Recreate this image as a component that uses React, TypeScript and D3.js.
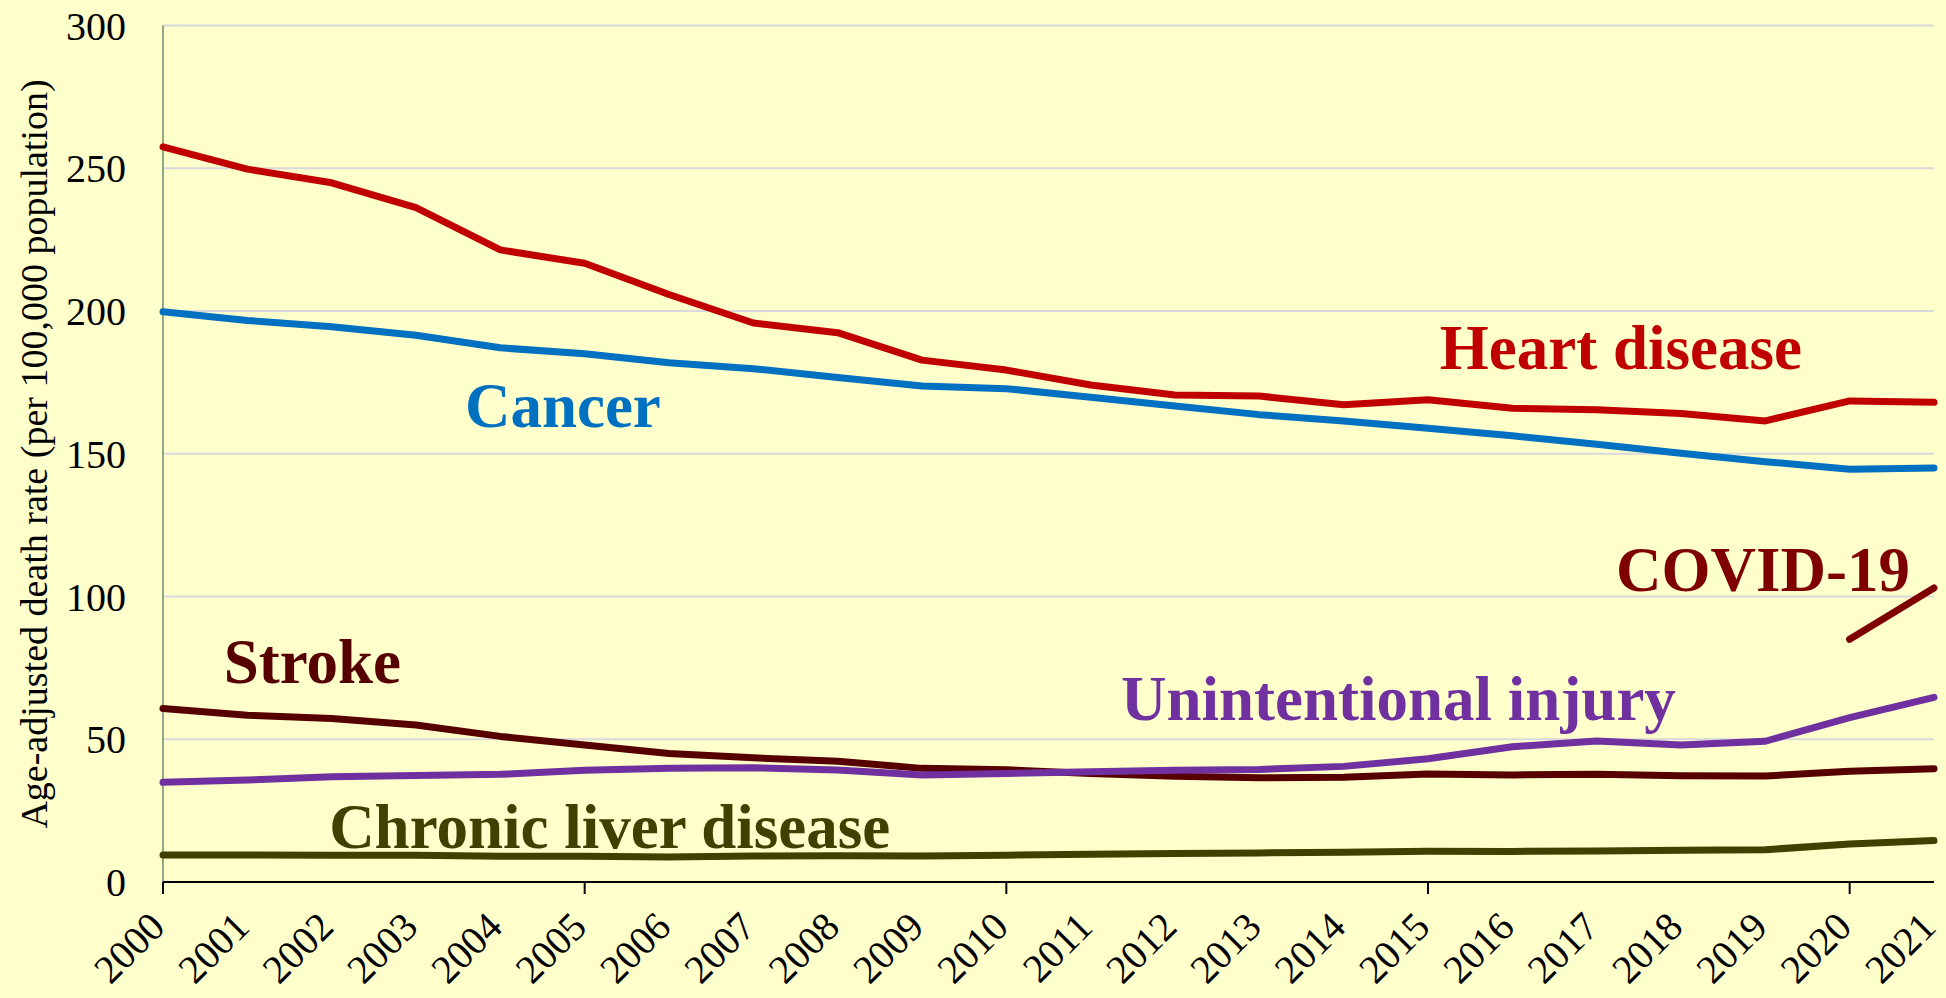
import React from 'react';
import * as d3 from 'd3';

const years = d3.range(2000, 2022);

const heartDisease = [257.5, 249.7, 244.9, 236.2, 221.4, 216.7, 205.8, 195.8, 192.4, 182.8, 179.3, 174.1, 170.6, 170.2, 167.2, 168.9, 165.9, 165.4, 164.1, 161.5, 168.5, 168.0];
const cancer = [199.7, 196.7, 194.5, 191.5, 187.1, 185.0, 181.9, 179.8, 176.7, 173.7, 172.8, 169.8, 166.7, 163.7, 161.5, 158.9, 156.3, 153.3, 150.2, 147.2, 144.6, 145.0];
const covid = [null, null, null, null, null, null, null, null, null, null, null, null, null, null, null, null, null, null, null, null, 85.0, 103.0];
const stroke = [60.8, 58.4, 57.3, 55.0, 51.0, 48.0, 45.0, 43.5, 42.3, 39.8, 39.3, 38.0, 37.0, 36.5, 36.7, 37.8, 37.5, 37.7, 37.2, 37.1, 38.8, 39.7];
const injury = [34.9, 35.7, 36.9, 37.3, 37.7, 39.1, 39.8, 40.0, 39.2, 37.5, 38.0, 38.6, 39.1, 39.4, 40.5, 43.2, 47.4, 49.4, 48.0, 49.3, 57.6, 64.7];
const liver = [9.5, 9.5, 9.4, 9.4, 9.0, 9.0, 8.8, 9.1, 9.2, 9.1, 9.4, 9.7, 10.0, 10.2, 10.4, 10.8, 10.7, 10.9, 11.1, 11.3, 13.3, 14.5];

const yTicks = [0, 50, 100, 150, 200, 250, 300];
const majorYears = [2000, 2005, 2010, 2015, 2020];

// name, values, colour, label anchor in data space (year, value)
const series = [
  { name: 'Heart disease', values: heartDisease, color: '#C00000', lx: 2015.14, ly: 179.6 },
  { name: 'Cancer', values: cancer, color: '#0070C0', lx: 2003.58, ly: 159.3 },
  { name: 'COVID-19', values: covid, color: '#7F0000', lx: 2017.23, ly: 101.8 },
  { name: 'Stroke', values: stroke, color: '#560000', lx: 2000.72, ly: 69.6 },
  { name: 'Unintentional injury', values: injury, color: '#7030A0', lx: 2011.36, ly: 56.6 },
  { name: 'Chronic liver disease', values: liver, color: '#404000', lx: 2001.97, ly: 11.8 },
];

const W = 1946;
const H = 998;
const margin = { top: 25.5, right: 12, bottom: 116, left: 163 };
const FONT = '"Liberation Serif", "Times New Roman", serif';

const App = () => {
  const x = d3.scaleLinear().domain([2000, 2021]).range([margin.left, W - margin.right]);
  const y = d3.scaleLinear().domain([0, 300]).range([H - margin.bottom, margin.top]);

  const line = d3.line<number | null>()
    .defined(d => d !== null)
    .x((d, i) => x(years[i]))
    .y(d => y(d as number));

  return (
    <svg width={W} height={H} style={{ position: 'absolute', left: 0, top: 0, display: 'block' }} fontFamily={FONT}>
      <rect width={W} height={H} fill="#FFFFCC" />

      {/* gridlines */}
      {yTicks.filter(t => t > 0).map(t => (
        <line key={t} x1={x(2000)} x2={x(2021)} y1={y(t)} y2={y(t)} stroke="#D9D9DD" strokeWidth={2} />
      ))}

      {/* y axis */}
      <line x1={x(2000)} x2={x(2000)} y1={y(300)} y2={y(0)} stroke="#6E8C6E" strokeWidth={1.5} />
      {yTicks.map(t => (
        <text key={t} x={126} y={y(t)} dy="0.35em" textAnchor="end" fontSize={40} fill="#000">{t}</text>
      ))}
      <text
        transform={`translate(${47},${454}) rotate(-90)`}
        textAnchor="middle"
        fontSize={38}
        fill="#000"
      >
        Age-adjusted death rate (per 100,000 population)
      </text>

      {/* x axis */}
      <line x1={x(2000)} x2={x(2021)} y1={y(0)} y2={y(0)} stroke="#000" strokeWidth={2} />
      {majorYears.map(yr => (
        <line key={yr} x1={x(yr)} x2={x(yr)} y1={y(0)} y2={y(0) + 12} stroke="#000" strokeWidth={2} />
      ))}
      {years.map(yr => (
        <text
          key={yr}
          transform={`translate(${x(yr) + 4},${929}) rotate(-45)`}
          textAnchor="end"
          fontSize={40}
          fill="#000"
        >
          {yr}
        </text>
      ))}

      {/* lines */}
      {series.map(s => (
        <path key={s.name} d={line(s.values) || ''} fill="none" stroke={s.color} strokeWidth={7} strokeLinejoin="round" strokeLinecap="round" />
      ))}

      {/* labels */}
      {series.map(s => (
        <text key={s.name} x={x(s.lx)} y={y(s.ly)} fontSize={63} fontWeight="bold" fill={s.color}>{s.name}</text>
      ))}
    </svg>
  );
};

export default App;
